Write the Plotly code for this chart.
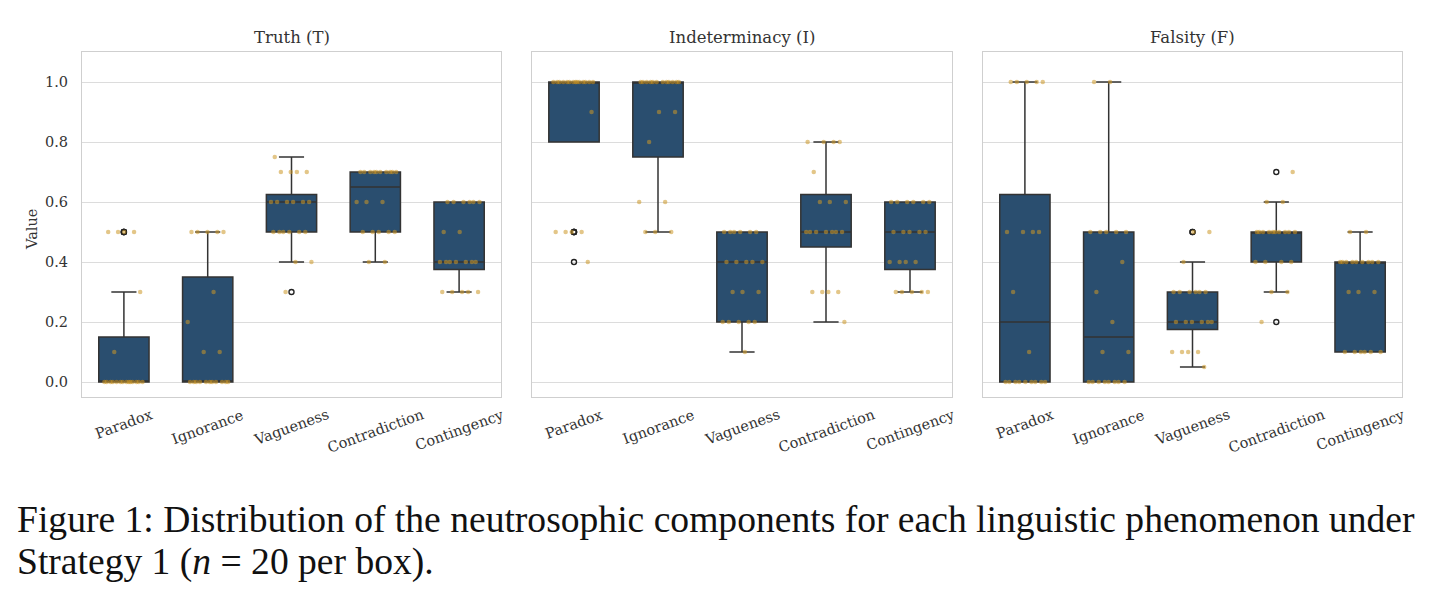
import numpy as np
import plotly.graph_objects as go

categories = ["Paradox", "Ignorance", "Vagueness", "Contradiction", "Contingency"]
panel_titles = ["Truth (T)", "Indeterminacy (I)", "Falsity (F)"]
y_ticks = [0.0, 0.2, 0.4, 0.6, 0.8, 1.0]

# Truth (T) values, 20 per phenomenon
truth_paradox = [0.0]*14 + [0.1, 0.3] + [0.5]*4
truth_ignorance = [0.0]*11 + [0.1, 0.1, 0.2, 0.3] + [0.5]*5
truth_vagueness = [0.3, 0.4, 0.4] + [0.5]*6 + [0.6]*6 + [0.7]*4 + [0.75]
truth_contradiction = [0.4, 0.4] + [0.5]*5 + [0.6]*3 + [0.7]*10
truth_contingency = [0.3]*5 + [0.4]*7 + [0.5]*2 + [0.6]*6

# Indeterminacy (I) values
indet_paradox = [0.4] + [0.5]*4 + [0.9] + [1.0]*14
indet_ignorance = [0.5]*3 + [0.6]*2 + [0.8] + [0.9]*2 + [1.0]*12
indet_vagueness = [0.1] + [0.2]*5 + [0.3]*3 + [0.4]*5 + [0.5]*6
indet_contradiction = [0.2] + [0.3]*4 + [0.5]*7 + [0.6]*3 + [0.7] + [0.8]*4
indet_contingency = [0.3]*5 + [0.4]*4 + [0.5]*5 + [0.6]*6

# Falsity (F) values
false_paradox = [0.0]*9 + [0.1, 0.3] + [0.5]*4 + [1.0]*5
false_ignorance = [0.0]*8 + [0.1, 0.1, 0.2, 0.3, 0.4] + [0.5]*5 + [1.0]*2
false_vagueness = [0.05] + [0.1]*4 + [0.2]*6 + [0.3]*6 + [0.4] + [0.5]*2
false_contradiction = [0.2] + [0.3]*2 + [0.4]*4 + [0.5]*10 + [0.6]*2 + [0.7]
false_contingency = [0.1]*6 + [0.3]*3 + [0.4]*9 + [0.5]*2

panels = [
    [truth_paradox, truth_ignorance, truth_vagueness, truth_contradiction, truth_contingency],
    [indet_paradox, indet_ignorance, indet_vagueness, indet_contradiction, indet_contingency],
    [false_paradox, false_ignorance, false_vagueness, false_contradiction, false_contingency],
]

BOX_FILL = "#2a4e6f"
EDGE = "#333333"
GOLD = "rgba(204,152,38,0.55)"
FONT = "DejaVu Serif"
TXT = "#333333"

W, H = 1435, 596
x_domains = [(82 / W, 501 / W), (532 / W, 952 / W), (983 / W, 1402 / W)]
y_domain = (1 - 397 / H, 1 - 52 / H)


def box_stats(vals):
    x = np.asarray(vals, dtype=float)
    q1, med, q3 = np.percentile(x, [25, 50, 75])
    iqr = q3 - q1
    lo = q1 - 1.5 * iqr
    hi = q3 + 1.5 * iqr
    wlo = x[x >= lo]
    whi = x[x <= hi]
    whislo = q1 if (len(wlo) == 0 or np.min(wlo) > q1) else np.min(wlo)
    whishi = q3 if (len(whi) == 0 or np.max(whi) < q3) else np.max(whi)
    fliers = x[(x < whislo) | (x > whishi)]
    return q1, med, q3, whislo, whishi, fliers


fig = go.Figure()

for p, groups in enumerate(panels):
    xa = "x" if p == 0 else f"x{p+1}"
    ya = "y" if p == 0 else f"y{p+1}"
    q1s, meds, q3s, los, his = [], [], [], [], []
    fx, fy = [], []
    sx, sy = [], []
    for i, vals in enumerate(groups):
        q1, med, q3, lo, hi, fl = box_stats(vals)
        q1s.append(q1); meds.append(med); q3s.append(q3); los.append(lo); his.append(hi)
        fx += [i] * len(fl)
        fy += list(fl)
        for k, v in enumerate(vals):
            off = (((k + 1) * 0.6180339887 + i * 0.37 + p * 0.21) % 1.0 - 0.5) * 0.5
            sx.append(i + off)
            sy.append(v)
    fig.add_trace(go.Box(
        x=list(range(len(groups))), q1=q1s, median=meds, q3=q3s,
        lowerfence=los, upperfence=his, width=0.6, whiskerwidth=0.5,
        fillcolor=BOX_FILL, line=dict(color=EDGE, width=1.5),
        boxpoints=False, showlegend=False, hoverinfo="skip",
        xaxis=xa, yaxis=ya,
    ))
    fig.add_trace(go.Scatter(
        x=fx, y=fy, mode="markers",
        marker=dict(symbol="circle-open", size=5, color="#222222", line=dict(width=1.4, color="#222222")),
        showlegend=False, hoverinfo="skip", xaxis=xa, yaxis=ya,
    ))
    fig.add_trace(go.Scatter(
        x=sx, y=sy, mode="markers",
        marker=dict(size=4.5, color=GOLD, line=dict(width=0)),
        showlegend=False, hoverinfo="skip", xaxis=xa, yaxis=ya,
    ))

layout = dict(
    width=W, height=H,
    margin=dict(l=0, r=0, t=0, b=0),
    paper_bgcolor="white", plot_bgcolor="white",
    font=dict(family=FONT, size=14, color=TXT),
)
annotations = []
for p in range(3):
    xk = "xaxis" if p == 0 else f"xaxis{p+1}"
    yk = "yaxis" if p == 0 else f"yaxis{p+1}"
    layout[xk] = dict(
        domain=list(x_domains[p]), range=[-0.5, 4.5],
        showgrid=False, zeroline=False, showticklabels=False, ticks="",
        showline=True, mirror=True, linecolor="#cfcfcf", linewidth=1.2,
        anchor="y" if p == 0 else f"y{p+1}",
    )
    layout[yk] = dict(
        domain=list(y_domain), range=[-0.05, 1.1],
        tickvals=y_ticks, ticktext=[f"{t:.1f}" for t in y_ticks],
        showticklabels=(p == 0), ticks="",
        showgrid=True, gridcolor="#dcdcdc", gridwidth=1.2, zeroline=False,
        showline=True, mirror=True, linecolor="#cfcfcf", linewidth=1.2,
        tickfont=dict(family=FONT, size=14.5, color=TXT),
        anchor="x" if p == 0 else f"x{p+1}",
        ticklabelstandoff=10,
    )
    xref = "x" if p == 0 else f"x{p+1}"
    x0, x1 = x_domains[p]
    annotations.append(dict(
        text=panel_titles[p], x=(x0 + x1) / 2, y=1 - 38 / H, xref="paper", yref="paper",
        xanchor="center", yanchor="middle", showarrow=False,
        font=dict(family=FONT, size=16.5, color=TXT),
    ))
    for i, c in enumerate(categories):
        annotations.append(dict(
            text=c, x=i, y=1 - 405 / H, xref=xref, yref="paper",
            xanchor="center", yanchor="top", showarrow=False, textangle=-20,
            font=dict(family=FONT, size=14.5, color=TXT), borderpad=0,
        ))

annotations.append(dict(
    text="Value", x=32 / W, y=1 - 230 / H, xref="paper", yref="paper",
    xanchor="center", yanchor="middle", showarrow=False, textangle=-90,
    font=dict(family=FONT, size=14.5, color=TXT),
))
annotations.append(dict(
    text="Figure 1: Distribution of the neutrosophic components for each linguistic phenomenon under",
    x=15 / W, y=1 - 519 / H, xref="paper", yref="paper",
    xanchor="left", yanchor="middle", showarrow=False,
    font=dict(family="Liberation Serif", size=37.6, color="#111111"),
))
annotations.append(dict(
    text="Strategy 1 (<i>n</i> = 20 per box).",
    x=15 / W, y=1 - 562 / H, xref="paper", yref="paper",
    xanchor="left", yanchor="middle", showarrow=False,
    font=dict(family="Liberation Serif", size=37.6, color="#111111"),
))
layout["annotations"] = annotations
fig.update_layout(**layout)
fig.write_html("out.html")
